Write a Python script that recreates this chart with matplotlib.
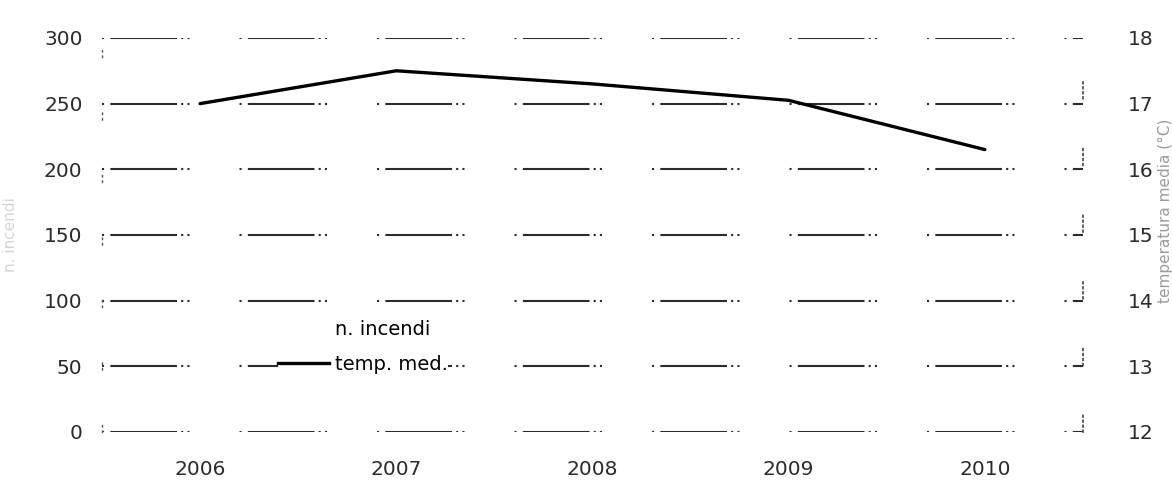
import matplotlib
matplotlib.use("Agg")
import matplotlib.pyplot as plt
from matplotlib.patches import Patch
from matplotlib.lines import Line2D

# data
years = ['2006', '2007', '2008', '2009', '2010']
temp_med = [17.0, 17.5, 17.3, 17.05, 16.3]
left_ticks = [0, 50, 100, 150, 200, 250, 300]
right_ticks = [12, 13, 14, 15, 16, 17, 18]
legend_labels = ['n. incendi', 'temp. med.']

ink = '#2b2b2b'
grid_dash = (0, (1, 3, 32, 2, 1, 2, 1, 24))

fig = plt.figure(figsize=(11.72, 4.93), dpi=100)
ax = fig.add_axes([0.087, 0.124, 0.837, 0.799])
ax2 = ax.twinx()

x = range(len(years))
ax.set_xlim(-0.5, len(years) - 0.5)
ax.set_ylim(0, 300)
ax2.set_ylim(12, 18)

# gridlines on the left scale (drawn as plain lines so the dash pattern shows)
for v in left_ticks:
    ax.axhline(v, color=ink, lw=1.5, linestyle=grid_dash, zorder=1)

ax2.plot(x, temp_med, color='black', lw=2.4, zorder=3, solid_capstyle='round')

ax.set_xticks(list(x))
ax.set_xticklabels(years)
ax.set_yticks(left_ticks)
ax2.set_yticks(right_ticks)
ax.tick_params(axis='x', length=0, pad=20, labelsize=14.5, labelcolor=ink)
ax.tick_params(axis='y', length=0, pad=14, labelsize=14.5, labelcolor=ink)
ax2.tick_params(axis='y', length=0, pad=32, labelsize=14.5, labelcolor=ink)

for a in (ax, ax2):
    for pos in ['top', 'bottom']:
        a.spines[pos].set_visible(False)
ax.spines['right'].set_visible(False)
ax2.spines['left'].set_visible(False)
ax.spines['left'].set_linestyle((0, (1, 3, 1, 40)))
ax.spines['left'].set_color('#555555')
ax.spines['left'].set_linewidth(1)
ax2.spines['right'].set_linestyle((0, (1, 2, 1, 2, 1, 2, 1, 30)))
ax2.spines['right'].set_color('#444444')
ax2.spines['right'].set_linewidth(1.2)

ax.set_ylabel('n. incendi', color='#d6d6d6', fontsize=11)
ax.yaxis.set_label_coords(-0.086, 0.5)
ax2.set_ylabel('temperatura media (°C)', color='#9a9a9a', fontsize=11,
               rotation=90)
ax2.yaxis.set_label_coords(1.077, 0.56)

handles = [Patch(facecolor='none', edgecolor='none'),
           Line2D([], [], color='black', lw=2.4)]
leg = fig.legend(handles, legend_labels, loc='upper left',
                 bbox_to_anchor=(278 / 1172, 1 - 320 / 493), frameon=True,
                 facecolor='white', edgecolor='none', framealpha=1,
                 fancybox=False, fontsize=14, handlelength=2.6,
                 handletextpad=0.35, labelspacing=0.8, borderpad=0,
                 borderaxespad=0)

fig.set_facecolor('white')
plt.savefig('out.png', dpi=100)
plt.close()
